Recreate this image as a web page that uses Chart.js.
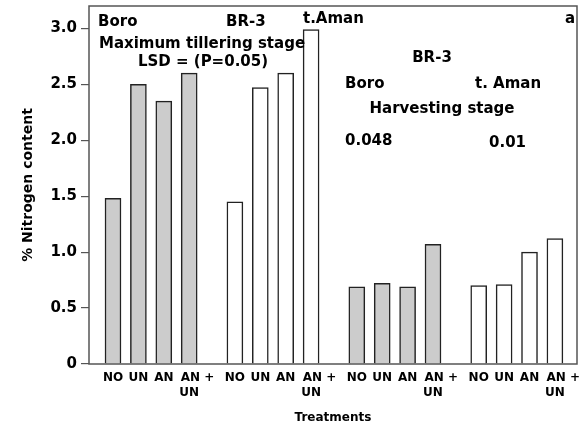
<!DOCTYPE html>
<html>
<head>
<meta charset="utf-8">
<script src="https://cdn.jsdelivr.net/npm/chart.js@4/dist/chart.umd.min.js"></script>
<style>
  html, body { margin: 0; padding: 0; background: #fff; }
  #wrap { width: 583px; height: 427px; }
</style>
</head>
<body>
<div id="wrap"><canvas id="c" width="583" height="427"></canvas></div>
<script>
// Nitrogen content (%) of BR-3 rice under four fertiliser treatments
const treatments = ['NO', 'UN', 'AN', ['AN +', 'UN']];
const boroTillering = [1.48, 2.50, 2.35, 2.60];
const amanTillering = [1.45, 2.47, 2.60, 2.99];
const boroHarvest = [0.69, 0.72, 0.69, 1.07];
const amanHarvest = [0.70, 0.71, 1.00, 1.12];
const yTicks = [0, 0.5, 1.0, 1.5, 2.0, 2.5, 3.0];

const FONT = "'DejaVu Sans', sans-serif";
const GROUP_STEP = 4.8;            // distance between treatment groups, in bar slots
const groupSeries = [boroTillering, amanTillering, boroHarvest, amanHarvest];
const groupFill = ['#cccccc', '#ffffff', '#cccccc', '#ffffff'];

const xPositions = [];
groupSeries.forEach((_, g) => treatments.forEach((_, i) => xPositions.push(g * GROUP_STEP + i)));

const datasets = groupSeries.map((vals, g) => ({
  data: vals.map((v, i) => ({ x: g * GROUP_STEP + i, y: v })),
  backgroundColor: groupFill[g],
  borderColor: '#222',
  borderWidth: 1.5,
  barThickness: 16,
  grouped: false
}));

// "AN +" hangs its plus sign to the right, so "AN" stays centred over the bar
function tickText(label) {
  if (Array.isArray(label)) return ['    ' + label[0], label[1]];
  return label;
}

// Annotations written inside the plot frame
const notes = [
  { t: 'Boro', x: 98, y: 26, a: 'left' },
  { t: 'BR-3', x: 226, y: 26, a: 'left' },
  { t: 't.Aman', x: 303, y: 23, a: 'left' },
  { t: 'a', x: 570, y: 23, a: 'center' },
  { t: 'Maximum tillering stage', x: 202, y: 48, a: 'center' },
  { t: 'LSD = (P=0.05)', x: 203, y: 66, a: 'center' },
  { t: 'BR-3', x: 432, y: 62, a: 'center' },
  { t: 'Boro', x: 345, y: 88, a: 'left' },
  { t: 't. Aman', x: 475, y: 88, a: 'left' },
  { t: 'Harvesting stage', x: 442, y: 113, a: 'center' },
  { t: '0.048', x: 345, y: 145, a: 'left' },
  { t: '0.01', x: 489, y: 147, a: 'left' }
];

const framePlugin = {
  id: 'frame',
  afterDatasetsDraw(chart) {
    const { ctx, chartArea: ca } = chart;
    ctx.save();
    ctx.strokeStyle = '#555';
    ctx.lineWidth = 1.5;
    ctx.strokeRect(ca.left, ca.top, ca.right - ca.left, ca.bottom - ca.top);
    ctx.fillStyle = '#000';
    ctx.font = 'bold 15px ' + FONT;
    ctx.textBaseline = 'alphabetic';
    notes.forEach(n => {
      ctx.textAlign = n.a;
      ctx.fillText(n.t, n.x, n.y);
    });
    ctx.restore();
  }
};

function noEdgePadding(scale) {
  scale.paddingTop = 0;
  scale.paddingBottom = 0;
  scale.paddingLeft = 0;
  scale.paddingRight = 0;
}

new Chart(document.getElementById('c'), {
  type: 'bar',
  data: { datasets },
  plugins: [framePlugin],
  options: {
    responsive: false,
    animation: false,
    layout: { padding: { top: 6, right: 6, left: 0, bottom: 0 } },
    plugins: { legend: { display: false }, tooltip: { enabled: false } },
    scales: {
      x: {
        type: 'linear',
        offset: false,
        min: -0.945,
        max: 3 * GROUP_STEP + 3 + 0.87,
        grid: { display: false, drawTicks: false },
        border: { display: false },
        afterBuildTicks(scale) { scale.ticks = xPositions.map(v => ({ value: v })); },
        afterFit(scale) { scale.height = 63; noEdgePadding(scale); },
        ticks: {
          autoSkip: false,
          maxRotation: 0,
          padding: 6,
          color: '#000',
          font: { family: FONT, size: 12, weight: 'bold', lineHeight: 1.25 },
          callback: (v, i) => tickText(treatments[i % treatments.length])
        },
        title: {
          display: true,
          text: 'Treatments',
          color: '#000',
          font: { family: FONT, size: 12, weight: 'bold' },
          padding: { top: 0, bottom: 2 }
        }
      },
      y: {
        min: 0,
        max: 3.2,
        grid: { display: true, drawOnChartArea: false, drawTicks: true, tickLength: 8, color: '#555', lineWidth: 1.2 },
        border: { display: false },
        afterBuildTicks(scale) { scale.ticks = yTicks.map(v => ({ value: v })); },
        afterFit(scale) { scale.width = 89; noEdgePadding(scale); },
        ticks: {
          padding: 4,
          color: '#000',
          font: { family: FONT, size: 15, weight: 'bold' },
          callback: v => (v === 0 ? '0' : v.toFixed(1))
        },
        title: {
          display: true,
          text: '% Nitrogen content',
          color: '#000',
          font: { family: FONT, size: 14, weight: 'bold' },
          padding: { top: 20, bottom: 0 }
        }
      }
    }
  }
});
</script>
</body>
</html>
